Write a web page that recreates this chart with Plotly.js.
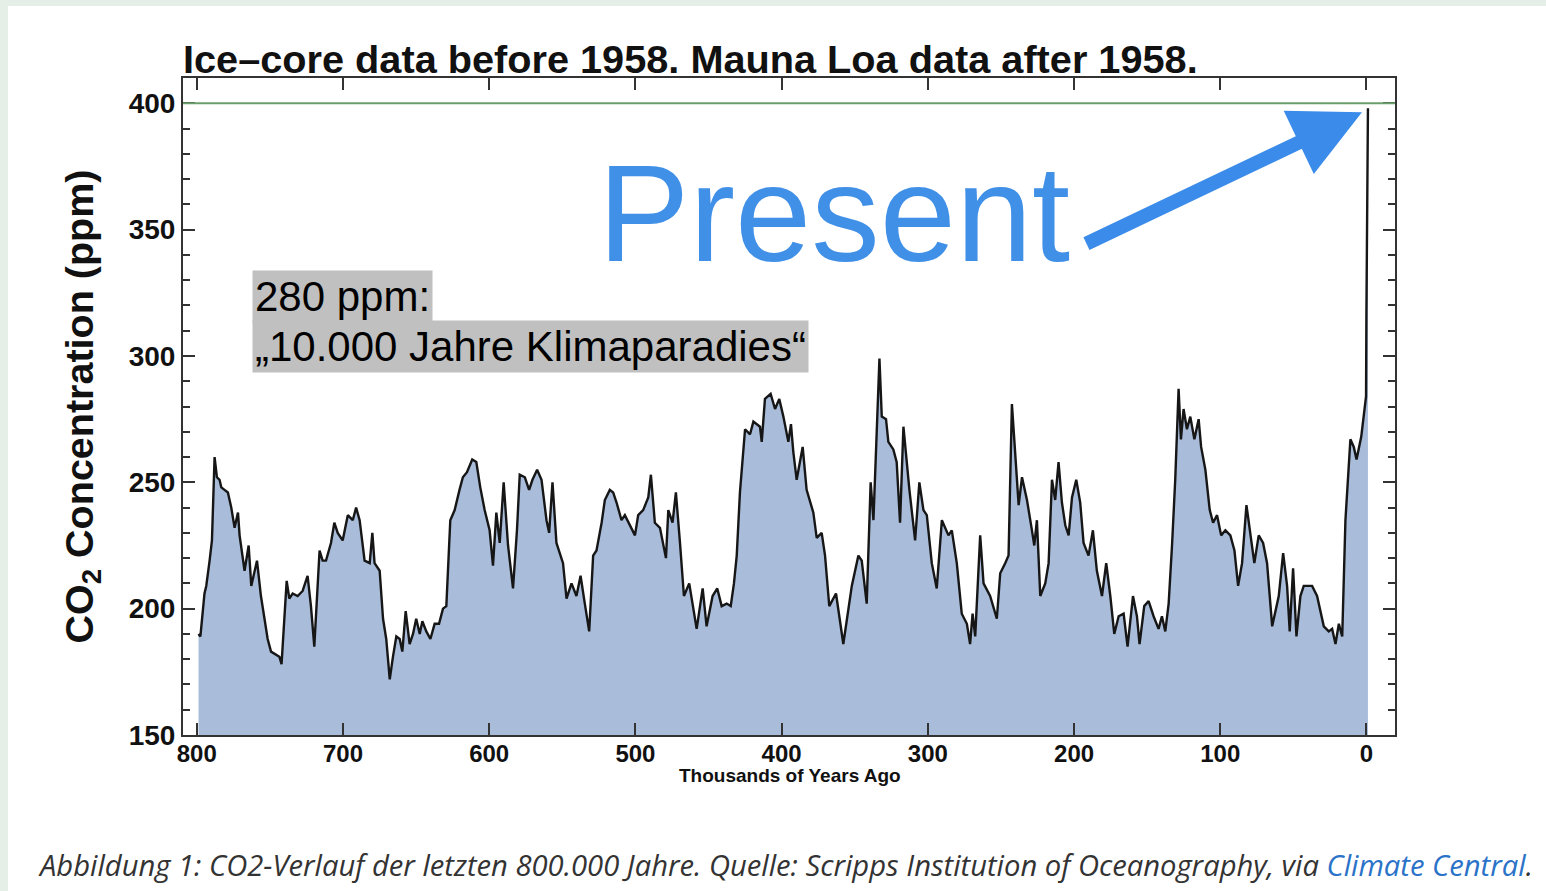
<!DOCTYPE html>
<html>
<head>
<meta charset="utf-8">
<script src="https://cdn.plot.ly/plotly-3.0.1.min.js"></script>
<style>
  html, body { margin:0; padding:0; width:1546px; height:891px; overflow:hidden; background:#e5efe7; }
  #panel { position:absolute; left:8px; top:6px; right:0; bottom:0; background:#ffffff; }
  #chart { position:absolute; left:0; top:0; width:1546px; height:891px; }
</style>
</head>
<body>
<div id="panel"></div>
<div id="chart"></div>
<script>
// thousands of years ago
const kyrAgo = [798.8,797.5,794.7,793.5,791.2,789.6,787.8,786.2,784.4,783.2,781.0,778.7,776.4,774.1,771.8,770.7,767.3,764.5,762.7,758.8,756.1,753.8,751.5,749.2,745.8,743.5,742.0,740.1,738.5,736.7,734.4,731.0,727.6,724.2,721.9,719.6,716.0,713.9,711.6,708.2,705.9,703.6,700.2,696.7,693.3,691.0,688.6,685.2,681.7,679.9,678.4,674.9,672.6,670.4,668.0,665.8,663.5,661.2,659.4,657.1,654.4,652.1,649.9,647.5,645.7,643.0,640.2,637.3,634.3,631.6,629.3,626.6,623.6,620.3,618.0,615.2,611.6,608.8,606.1,603.1,599.7,597.4,595.1,592.8,590.1,587.1,583.7,581.0,579.1,575.6,572.7,570.4,567.2,564.2,560.8,559.0,556.7,554.0,549.5,547.1,543.7,540.3,537.5,534.6,531.6,528.9,526.6,523.1,520.9,517.5,515.2,512.9,509.5,507.2,503.8,500.3,498.1,494.7,491.2,489.4,486.7,483.2,479.1,477.5,474.6,472.3,469.5,466.8,463.2,460.4,458.1,454.0,451.3,447.2,444.0,441.0,437.6,434.8,432.6,430.7,428.5,425.0,421.6,419.3,414.8,413.6,411.4,407.5,404.5,401.6,398.8,395.4,393.6,392.0,389.7,385.6,382.9,378.3,376.0,372.6,370.3,367.4,362.8,357.8,352.0,347.5,345.2,341.8,339.1,337.2,334.9,333.1,331.5,328.6,327.0,323.6,321.3,319.0,316.7,314.4,312.6,308.7,305.8,303.0,300.7,297.3,293.9,290.4,285.9,283.6,280.2,276.8,273.3,271.1,269.4,267.6,266.0,264.2,261.9,257.4,252.8,250.5,247.1,244.8,242.5,240.2,237.9,235.6,232.2,228.8,227.2,225.4,223.1,219.7,217.4,215.1,212.9,210.6,208.3,206.0,203.7,201.4,198.5,195.8,193.5,190.1,187.1,184.4,180.9,178.0,175.2,172.5,169.5,166.1,163.4,159.7,157.0,155.2,152.0,149.0,145.6,142.2,139.9,137.6,135.3,133.0,130.8,128.5,126.9,125.1,122.8,120.5,117.7,114.8,113.1,110.2,107.2,104.9,102.2,99.4,96.5,93.1,90.3,87.8,85.1,82.1,79.4,76.7,73.7,70.7,68.0,64.5,60.0,57.0,54.3,52.5,50.2,47.9,45.2,42.9,37.2,33.8,29.2,25.8,23.5,21.2,18.9,16.6,14.4,11.0,8.7,6.8,3.6,0.7,0.3,0.06,-1.0];
// CO2 concentration (ppm)
const co2Ppm = [190,189,206,209,219,227,260,252,251,248,247,246,240,232,238,229,215,225,209,219,205,196,188,183,182,181,178,198,211,204,206,205,207,213,201,185,223,219,219,226,234,230,227,237,235,240,235,219,218,230,218,215,196,188,172,181,189,188,183,199,186,190,196,190,195,191,188,194,194,200,201,235,239,247,252,254,259,258,248,239,231,217,238,226,250,225,208,231,253,252,247,251,255,251,235,230,250,226,218,204,210,205,213,202,191,221,223,234,243,247,246,242,235,237,233,229,237,239,244,253,234,232,220,239,234,246,226,205,210,200,192,208,193,205,208,201,202,201,210,221,246,271,269,274,272,266,283,285,279,283,276,266,273,262,251,264,247,238,228,230,221,201,206,186,209,221,219,202,250,235,270,299,276,275,266,263,258,234,272,256,247,227,250,239,237,218,208,235,229,231,218,198,194,186,198,189,210,229,210,205,196,214,218,221,281,260,241,252,243,231,225,235,205,210,218,251,243,258,242,233,229,244,251,242,226,221,231,215,205,218,205,190,197,198,185,205,197,186,201,203,197,192,197,191,202,225,251,287,267,279,271,276,267,275,264,255,239,234,237,229,231,229,223,209,218,241,230,218,229,226,218,193,205,222,209,191,216,189,205,209,209,205,193,191,192,186,194,189,235,267,264,259,268,281,284,316,398];

const xTickVals = [800,700,600,500,400,300,200,100,0];
const yTickVals = [150,200,250,300,350,400];
const refLevel = 400;

const titleText = 'Ice\u2013core data before 1958. Mauna Loa data after 1958.';
const yTitle = 'CO<sub>2</sub> Concentration (ppm)';
const xTitle = 'Thousands of Years Ago';
const boxLine1 = '280 ppm:';
const boxLine2 = '\u201E10.000 Jahre Klimaparadies\u201C';
const presentText = 'Present';
const caption = 'Abbildung 1: CO2-Verlauf der letzten 800.000 Jahre. Quelle: Scripps Institution of Oceanography, via <span style="color:#2a73c8">Climate Central</span>.';

const axisCol = '#333333';
const bold = {family:'Liberation Sans, Arial, sans-serif', weight:'bold', color:'#111'};

const trace = {
  x: kyrAgo, y: co2Ppm, type:'scatter', mode:'lines',
  fill:'tozeroy', fillcolor:'#a9bddb',
  line:{color:'#161616', width:2.4},
  hoverinfo:'x+y'
};

const layout = {
  width:1546, height:891,
  margin:{l:183, r:151, t:78, b:156},
  paper_bgcolor:'rgba(0,0,0,0)', plot_bgcolor:'#ffffff',
  showlegend:false,
  title:{text:titleText, x:0, xref:'paper', xanchor:'left', y:1-59/891, yref:'container', yanchor:'middle',
         font:Object.assign({}, bold, {size:39.7, color:'#111'})},
  xaxis:{range:[809.4,-19.5], tickvals:xTickVals, ticktext:xTickVals.map(String),
         ticks:'inside', ticklen:12, tickwidth:2, tickcolor:axisCol,
         showline:true, linecolor:axisCol, linewidth:2, mirror:'allticks',
         showgrid:false, zeroline:false, ticklabelstandoff:-4,
         tickfont:Object.assign({}, bold, {size:24})},
  yaxis:{range:[150,410], tickvals:yTickVals, ticktext:yTickVals.map(String),
         ticks:'inside', ticklen:12, tickwidth:2, tickcolor:axisCol,
         minor:{dtick:10, ticks:'inside', ticklen:7, tickwidth:2, tickcolor:axisCol, showgrid:false},
         showline:true, linecolor:axisCol, linewidth:2, mirror:'allticks',
         showgrid:false, zeroline:false, ticklabelstandoff:0,
         tickfont:Object.assign({}, bold, {size:28})},
  shapes:[{type:'line', xref:'paper', x0:0, x1:1, yref:'y', y0:refLevel, y1:refLevel,
           line:{color:'#6a9f6a', width:2}, layer:'above'}],
  annotations:[
    {text:yTitle, xref:'paper', yref:'paper', x:(81-183)/1212, y:0.5, xanchor:'center', yanchor:'middle',
     textangle:-90, showarrow:false, font:Object.assign({}, bold, {size:39.5})},
    {text:xTitle, xref:'paper', yref:'paper', x:(790-183)/1212, y:-(775-735)/657, xanchor:'center', yanchor:'middle',
     showarrow:false, font:Object.assign({}, bold, {size:19})},
    {text:presentText, xref:'paper', yref:'paper', x:(596-183)/1212, y:(735-213)/657, xanchor:'left', yanchor:'middle',
     showarrow:false, font:{family:'Liberation Sans, Arial, sans-serif', size:137, color:'#4190e8'}},
    {text:'', x:3.1, y:396.4, xref:'x', yref:'y', showarrow:true, ax:-277, ay:132,
     arrowhead:2, arrowsize:1.0, arrowwidth:14, arrowcolor:'#3a8bea', standoff:0},
    {text:boxLine1, xref:'paper', yref:'paper', x:(252-183)/1212, y:(735-270)/657, xanchor:'left', yanchor:'top',
     showarrow:false, bgcolor:'#c0c0c0', borderpad:2, align:'left',
     font:{family:'Liberation Sans, Arial, sans-serif', size:42, color:'#000'}},
    {text:boxLine2, xref:'paper', yref:'paper', x:(252-183)/1212, y:(735-320)/657, xanchor:'left', yanchor:'top',
     showarrow:false, bgcolor:'#c0c0c0', borderpad:2, align:'left',
     font:{family:'Liberation Sans, Arial, sans-serif', size:42, color:'#000'}},
    {text:caption, xref:'paper', yref:'paper', x:(36-183)/1212, y:-(865-735)/657, xanchor:'left', yanchor:'middle',
     showarrow:false, align:'left',
     font:{family:'Open Sans, sans-serif', size:29.2, style:'italic', color:'#333333'}}
  ]
};

Plotly.newPlot('chart', [trace], layout, {displayModeBar:false, staticPlot:true});
</script>
</body>
</html>
